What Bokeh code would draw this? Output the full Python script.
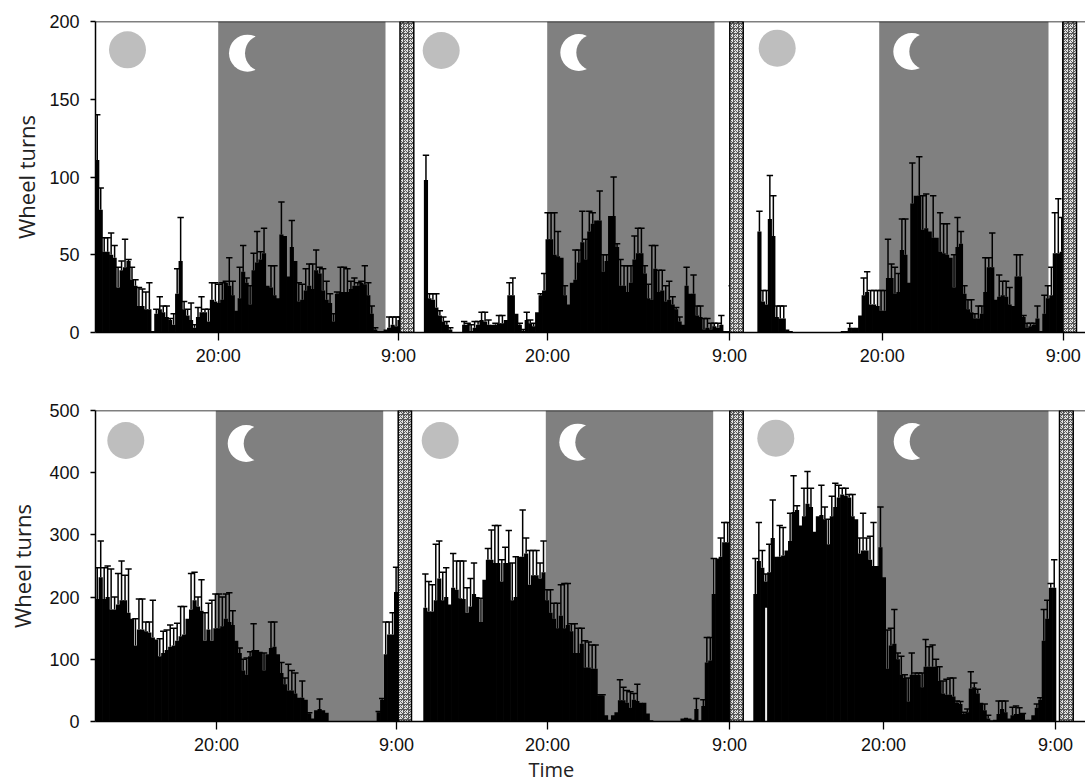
from bokeh.plotting import figure
from bokeh.layouts import column
from bokeh.models import Range1d, FixedTicker, Span, Title
from bokeh.embed import file_html
from bokeh.resources import INLINE
import numpy as np

# ---- data: mean wheel turns per 15 min bin and the upper end of its error bar
top1_mean = [111,79,52,52,50,48,29,40,42,46,34,30,17,17,15,15,1,12,15,13,10,8,5,25,46,15,11,8,3,10,13,13,7,21,20,19,21,32,30,24,14,22,39,32,18,40,45,47,51,30,29,24,22,63,62,36,55,46,20,21,27,30,28,40,38,27,21,19,7,25,26,26,26,28,30,30,32,31,24,12,2,1,1,2,3,5,4,8]
top1_err  = [140,93,61,61,64,56,42,46,60,47,42,34,29,28,26,32,1,15,23,17,17,9,12,41,74,20,15,19,5,16,23,15,15,32,32,31,32,33,48,33,14,42,56,35,30,51,65,52,67,30,43,43,22,84,62,36,72,46,32,31,41,44,44,53,42,41,33,25,12,26,42,42,41,33,35,32,33,43,32,17,3,1,1,2,10,10,10,10]
top2_mean = [0,0,0,98,22,21,16,11,7,5,2,0,0,0,5,5,1,3,5,8,7,5,5,5,6,6,8,24,24,12,5,1,8,6,4,13,24,27,60,60,50,49,48,24,18,32,34,45,58,47,65,70,72,72,39,46,75,75,55,30,30,26,32,47,51,51,38,22,21,41,26,27,20,21,18,15,7,5,30,25,25,11,10,2,3,2,4,3,5,1,1,17]
top2_err  = [0,0,0,114,25,25,25,14,10,7,3,0,0,0,7,6,5,7,7,13,13,8,5,6,11,11,8,32,35,12,6,2,13,8,6,13,25,38,77,77,77,65,48,30,18,32,53,53,78,60,78,77,72,91,50,50,75,100,57,47,43,43,43,62,67,67,43,31,56,56,40,40,30,33,23,16,10,5,42,25,37,17,17,9,9,6,6,6,11,1,1,30]
top3_mean = [0,0,0,0,65,20,18,73,62,10,9,9,2,1,0,0,0,0,0,0,0,0,0,0,0,0,0,0,1,1,3,3,3,11,24,26,18,18,17,14,14,35,35,25,26,53,50,32,83,88,88,66,67,65,61,61,52,51,50,48,29,55,57,25,15,13,9,9,12,26,42,42,21,23,24,23,18,17,36,36,10,3,4,5,9,1,12,22,24,51,51,52,62]
top3_err  = [0,0,0,0,78,27,27,101,88,17,17,17,2,1,0,0,0,0,0,0,0,0,0,0,0,0,0,0,1,1,6,3,3,11,35,39,27,27,27,27,27,60,44,42,38,73,73,32,109,88,113,88,89,65,88,61,77,70,70,48,50,74,65,30,21,21,12,17,17,48,48,64,21,37,33,33,29,17,50,50,11,6,6,6,17,1,24,30,42,77,86,74,86]
bot1_mean = [197,232,197,200,180,180,188,195,195,175,165,122,148,148,145,143,135,132,105,110,115,120,122,130,137,140,165,180,195,185,178,130,148,130,150,150,153,165,160,155,130,110,82,75,105,115,115,112,82,108,118,120,108,78,60,50,50,45,38,38,35,13,5,18,20,18,14,1,0,0,0,0,0,0,0,0,0,0,0,0,0,15,35,108,140,140,208]
bot1_err  = [247,290,247,250,245,200,238,258,235,245,165,165,197,197,160,160,195,132,133,145,147,155,150,158,185,185,165,238,240,200,228,175,190,195,205,205,200,205,207,178,130,118,100,102,112,157,115,112,110,108,160,160,108,95,70,92,82,78,38,65,35,14,5,18,36,18,14,1,0,0,0,0,0,0,0,0,0,0,0,0,0,16,37,160,160,175,248]
bot2_mean = [0,0,0,183,177,177,195,230,195,200,188,215,212,198,197,175,185,205,200,160,228,260,260,255,255,225,255,255,195,200,265,265,270,220,235,235,230,240,195,175,165,150,170,150,155,145,110,110,125,87,87,85,85,42,42,10,3,10,15,34,34,30,22,35,33,30,30,13,2,1,1,1,1,1,1,1,1,5,6,5,3,20,2,25,95,98,205,262,265,288,288]
bot2_err  = [0,0,0,237,225,220,285,290,240,247,188,270,258,258,258,215,230,255,200,198,228,278,308,315,315,260,280,307,255,265,265,340,295,275,275,275,255,290,212,212,190,190,220,222,222,157,157,150,150,130,128,123,123,43,43,10,3,10,15,67,55,50,48,45,60,30,30,13,2,1,1,1,1,1,1,1,1,5,6,5,3,37,2,35,135,135,262,262,295,320,320]
bot3_mean = [0,0,0,205,258,247,225,240,295,265,265,267,275,290,337,340,315,330,350,345,305,330,332,325,285,330,345,360,365,363,360,330,325,270,275,275,260,250,250,280,232,85,122,125,100,75,70,32,75,75,75,55,88,88,88,88,65,45,43,43,40,30,28,12,15,53,55,45,30,18,5,2,3,12,20,15,5,10,12,12,12,3,3,10,22,35,130,165,215,215]
bot3_err  = [0,0,0,262,320,275,237,285,356,265,315,312,275,335,395,347,315,375,402,375,305,330,380,345,325,362,383,380,375,375,365,365,325,295,335,295,298,320,250,345,232,147,150,180,110,105,75,70,110,78,78,78,132,120,123,100,88,65,68,70,70,33,32,15,20,80,62,52,30,28,10,2,3,33,33,33,5,23,25,22,13,3,3,10,28,38,180,195,222,260]
top_ticks = [0,50,100,150,200]
bot_ticks = [0,100,200,300,400,500]
x_labels = ["20:00","9:00"]*3

# ---- layout, all positions given in reference pixels
HOUR = 13.9
BIN = 0.25
LEFT, RIGHT = 95, 1085
def hx(px):
    return (np.asarray(px, dtype=float)-LEFT)/HOUR

rows = [
 dict(means=[top1_mean,top2_mean,top3_mean], errs=[top1_err,top2_err,top3_err], ymax=200, ticks=top_ticks,
      start=[95,413.3,743.3], tick=[217.7,398,547,729,881.7,1062.7],
      grey=[(217.7,385),(546.7,714),(878.7,1048)], band=[(399.5,413.3),(729.3,742.7),(1062.3,1076)],
      sun=[(127,49.3),(440.7,50),(776.7,47.7)], moon=[(247,52.7),(578.3,52),(911.3,51)],
      ftop=21, fbot=332, h=376, border_top=21, border_bot=44, lab=5, xlab=None, slit=[]),
 dict(means=[bot1_mean,bot2_mean,bot3_mean], errs=[bot1_err,bot2_err,bot3_err], ymax=500, ticks=bot_ticks,
      start=[95,412.7,742.7], tick=[216,396,547,729,883,1055],
      grey=[(215.3,382.7),(545.3,712.7),(876.7,1048)], band=[(397.7,411),(729.3,742.7),(1059,1072.7)],
      sun=[(125.3,440),(439.7,440),(775.3,437.7)], moon=[(245.7,443),(577.3,441.7),(911.7,441)],
      ftop=410, fbot=721, h=407, border_top=34, border_bot=62, lab=9, xlab="Time", slit=[(765.6,183)]),
]

figs = []
for r in rows:
    ymax = r["ymax"]
    yv = lambda py: (r["fbot"]-py)/(r["fbot"]-r["ftop"])*ymax
    p = figure(width=RIGHT, height=r["h"], output_backend="svg", toolbar_location=None,
               x_range=Range1d(0,(RIGHT-LEFT)/HOUR), y_range=Range1d(0,ymax),
               min_border_left=LEFT, min_border_right=0,
               min_border_top=r["border_top"], min_border_bottom=r["border_bot"])
    p.grid.visible = False
    p.outline_line_color = None
    p.background_fill_color = "white"

    # night shading
    for a,b in r["grey"]:
        p.quad(left=float(hx(a)), right=float(hx(b)), bottom=0, top=ymax, fill_color="#808080", line_color=None)
    # sun and moon
    for sx,sy in r["sun"]:
        p.scatter([float(hx(sx))],[yv(sy)], size=37, marker="circle", fill_color="#bebebe", line_color=None)
    for mx,my in r["moon"]:
        p.scatter([float(hx(mx))],[yv(my)], size=37, marker="circle", fill_color="white", line_color=None)
        p.scatter([float(hx(mx+16))],[yv(my)], size=37, marker="circle", fill_color="#808080", line_color=None)

    # bars and error bars
    for st,m,e in zip(r["start"],r["means"],r["errs"]):
        m = np.array(m,dtype=float); e = np.array(e,dtype=float)
        x = float(hx(st)) + BIN*(np.arange(len(m))+0.5)
        k = m>0
        p.vbar(x=x[k], width=BIN*1.2, bottom=0, top=m[k], fill_color="black", line_color=None)
        k = e>m
        p.segment(x[k], m[k], x[k], e[k], line_color="black", line_width=1.5)
        p.segment(x[k]-0.23, e[k], x[k]+0.23, e[k], line_color="black", line_width=1.5)

    # thin light gap inside the black mass
    for sx,sv in r["slit"]:
        p.segment([float(hx(sx))],[0],[float(hx(sx))],[sv], line_color="#eeeeee", line_width=2)

    # hatched stop band
    for a,b in r["band"]:
        p.quad(left=float(hx(a)), right=float(hx(b)), bottom=0, top=ymax, fill_color="#e2e2e2",
               hatch_pattern="criss_cross", hatch_color="#5a5a5a", hatch_scale=5, hatch_weight=1,
               line_color="black", line_width=1.5)

    p.add_layout(Span(location=ymax, dimension="width", line_color="black", line_width=1.5))

    p.xaxis.ticker = FixedTicker(ticks=[float(v) for v in hx(r["tick"])])
    p.xaxis.major_label_overrides = {float(v):l for v,l in zip(hx(r["tick"]),x_labels)}
    p.yaxis.ticker = FixedTicker(ticks=r["ticks"])
    for ax in (p.xaxis[0],p.yaxis[0]):
        ax.axis_line_color="black"; ax.axis_line_width=1.5
        ax.major_tick_line_color="black"; ax.major_tick_line_width=1.3
        ax.minor_tick_line_color=None; ax.major_tick_in=0
        ax.major_label_text_font="Liberation Sans"; ax.major_label_text_font_size="18px"
        ax.major_label_text_color="#111111"
        ax.axis_label_text_font="Open Sans"; ax.axis_label_text_font_size="22px"
        ax.axis_label_text_font_style="normal"; ax.axis_label_text_color="#222222"
    p.xaxis.major_tick_out=8; p.yaxis.major_tick_out=5
    p.yaxis.major_label_standoff=11; p.xaxis.major_label_standoff=5
    p.yaxis.axis_label="Wheel turns"; p.yaxis.axis_label_standoff=r["lab"]
    if r["xlab"]:
        p.add_layout(Title(text=r["xlab"], align="left", offset=433, standoff=-8,
                           text_font="Open Sans", text_font_size="20px", text_font_style="normal",
                           text_color="#222222"), "below")
    figs.append(p)

page = column(*figs, spacing=0)
open("out.html","w").write(file_html(page, INLINE))
